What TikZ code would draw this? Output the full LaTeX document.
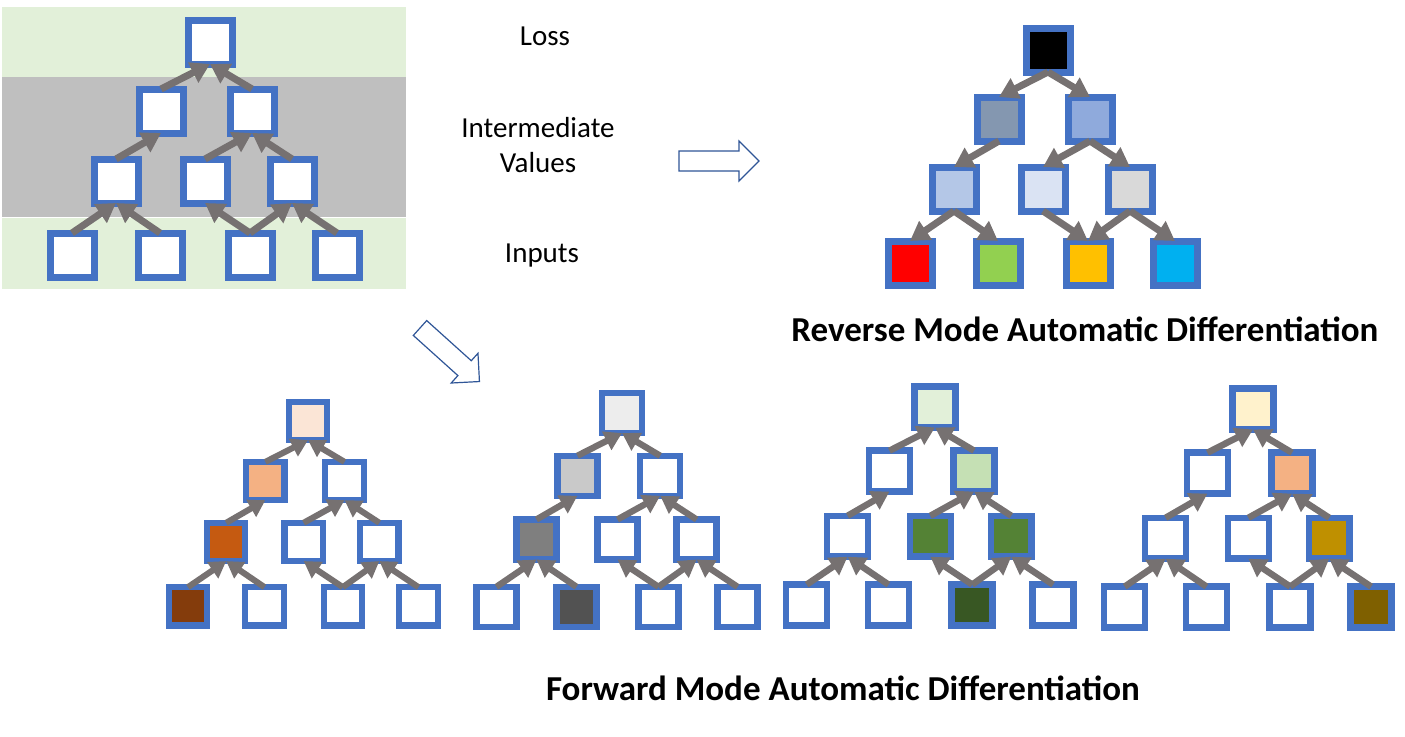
\documentclass[tikz,border=0pt]{standalone}
\usepackage{fontspec}
\setmainfont{Carlito}
\usetikzlibrary{arrows.meta}

\definecolor{cellblue}{HTML}{4472C4}
\definecolor{flowgray}{HTML}{767171}
\definecolor{bandgreen}{HTML}{E2F0D9}
\definecolor{bandgray}{HTML}{BFBFBF}
\definecolor{outlineblue}{HTML}{2F5597}
% reverse mode fills
\definecolor{rvA}{HTML}{8497B0}
\definecolor{rvB}{HTML}{8FAADC}
\definecolor{rvC}{HTML}{B4C7E7}
\definecolor{rvD}{HTML}{DAE3F3}
\definecolor{rvE}{HTML}{D9D9D9}
\definecolor{rvF}{HTML}{FF0000}
\definecolor{rvG}{HTML}{92D050}
\definecolor{rvH}{HTML}{FFC000}
\definecolor{rvI}{HTML}{00B0F0}
% forward mode fills
\definecolor{faA}{HTML}{FBE5D6}
\definecolor{faB}{HTML}{F4B183}
\definecolor{faC}{HTML}{C55A11}
\definecolor{faD}{HTML}{843C0C}
\definecolor{fbA}{HTML}{EDEDED}
\definecolor{fbB}{HTML}{C9C9C9}
\definecolor{fbC}{HTML}{7F7F7F}
\definecolor{fbD}{HTML}{525252}
\definecolor{fcA}{HTML}{E2F0D9}
\definecolor{fcB}{HTML}{C5E0B4}
\definecolor{fcC}{HTML}{548235}
\definecolor{fcD}{HTML}{385723}
\definecolor{fdA}{HTML}{FFF2CC}
\definecolor{fdB}{HTML}{F4B183}
\definecolor{fdC}{HTML}{BF9000}
\definecolor{fdD}{HTML}{7F6000}

\tikzset{cell/.style={rectangle, draw=cellblue, line width=#1*7pt, minimum size=#1*44pt, inner sep=0pt, outer sep=0pt},
cell/.default={1},
flowup/.style={draw=flowgray, -{Triangle[width=0pt 3.1,length=0pt 2.7]}},
flowdown/.style={draw=flowgray, {Triangle[width=0pt 3.1,length=0pt 2.7]}-},
label/.style={font=\fontsize{29}{35}\selectfont, inner sep=0pt, align=center},
title/.style={font=\bfseries\fontsize{35}{42}\selectfont, inner sep=0pt, anchor=base},
hollow/.style={draw=outlineblue, line width=1.2pt, fill=white, line join=miter}}

% #1 name, #2 root, #3 scale, #4 fills (10), #5 arrow style
\newcommand{\drawgraph}[5]{%
\begin{scope}[shift={#2}, scale=#3]
\foreach \i/\p in {0/{0,0},1/{-49,69},2/{42,69},3/{-94,139},4/{-5,139},5/{82,139},6/{-138,213},7/{-50,213},8/{40,213},9/{127,213}}
    \coordinate (#1p\i) at (\p);
\foreach \c [count=\i from 0] in {#4}
    \node[cell=#3, fill=\c] (#1\i) at (#1p\i) {};
\foreach \a/\b in {1/0,2/0,3/1,4/2,5/2,6/3,7/3,8/4,8/5,9/5}
    \draw[#5, line width=#3*7pt] (#1\a.north) -- (#1\b.south);
\end{scope}}

\begin{document}
\begin{tikzpicture}[x=1pt,y=-1pt]

\useasboundingbox (0,0) rectangle (1405,736);

% layers behind the plain graph
\fill[bandgreen] (2,7) rectangle (406,77);
\fill[bandgray] (2,77) rectangle (406,217);
\fill[bandgreen] (2,218) rectangle (406,289);

\drawgraph{g}{(210,42)}{1}{white,white,white,white,white,white,white,white,white,white}{flowup}

\node[label, anchor=base] (loss) at (545,45) {Loss};
\node[label] (inter) at (538,145) {Intermediate\\Values};
\node[label, anchor=base] (inputs) at (542,262) {Inputs};

% reverse mode
\drawgraph{r}{(1048,50)}{1}{black,rvA,rvB,rvC,rvD,rvE,rvF,rvG,rvH,rvI}{flowdown}
\node[title] (revtitle) at (1085,341) {Reverse Mode Automatic Differentiation};

% forward mode, one pass per input
\drawgraph{fa}{(308,421)}{0.87}{faA,faB,white,faC,white,white,faD,white,white,white}{flowup}
\drawgraph{fb}{(622,413)}{0.91}{fbA,fbB,white,fbC,white,white,white,fbD,white,white}{flowup}
\drawgraph{fc}{(935,407)}{0.93}{fcA,white,fcB,white,fcC,fcC,white,white,fcD,white}{flowup}
\drawgraph{fd}{(1253,409)}{0.93}{fdA,white,fdB,white,white,fdC,white,white,white,fdD}{flowup}
\node[title] (fwdtitle) at (843,700) {Forward Mode Automatic Differentiation};

% block arrows
\draw[hollow, shift={(679,161)}] (0,-10) -- (60,-10) -- (60,-20) -- (80,0) -- (60,20) -- (60,10) -- (0,10) -- cycle;
\draw[hollow, shift={(420,328)}, rotate=-42] (0,-10) -- (60,-10) -- (60,-20) -- (80,0) -- (60,20) -- (60,10) -- (0,10) -- cycle;

\end{tikzpicture}
\end{document}
